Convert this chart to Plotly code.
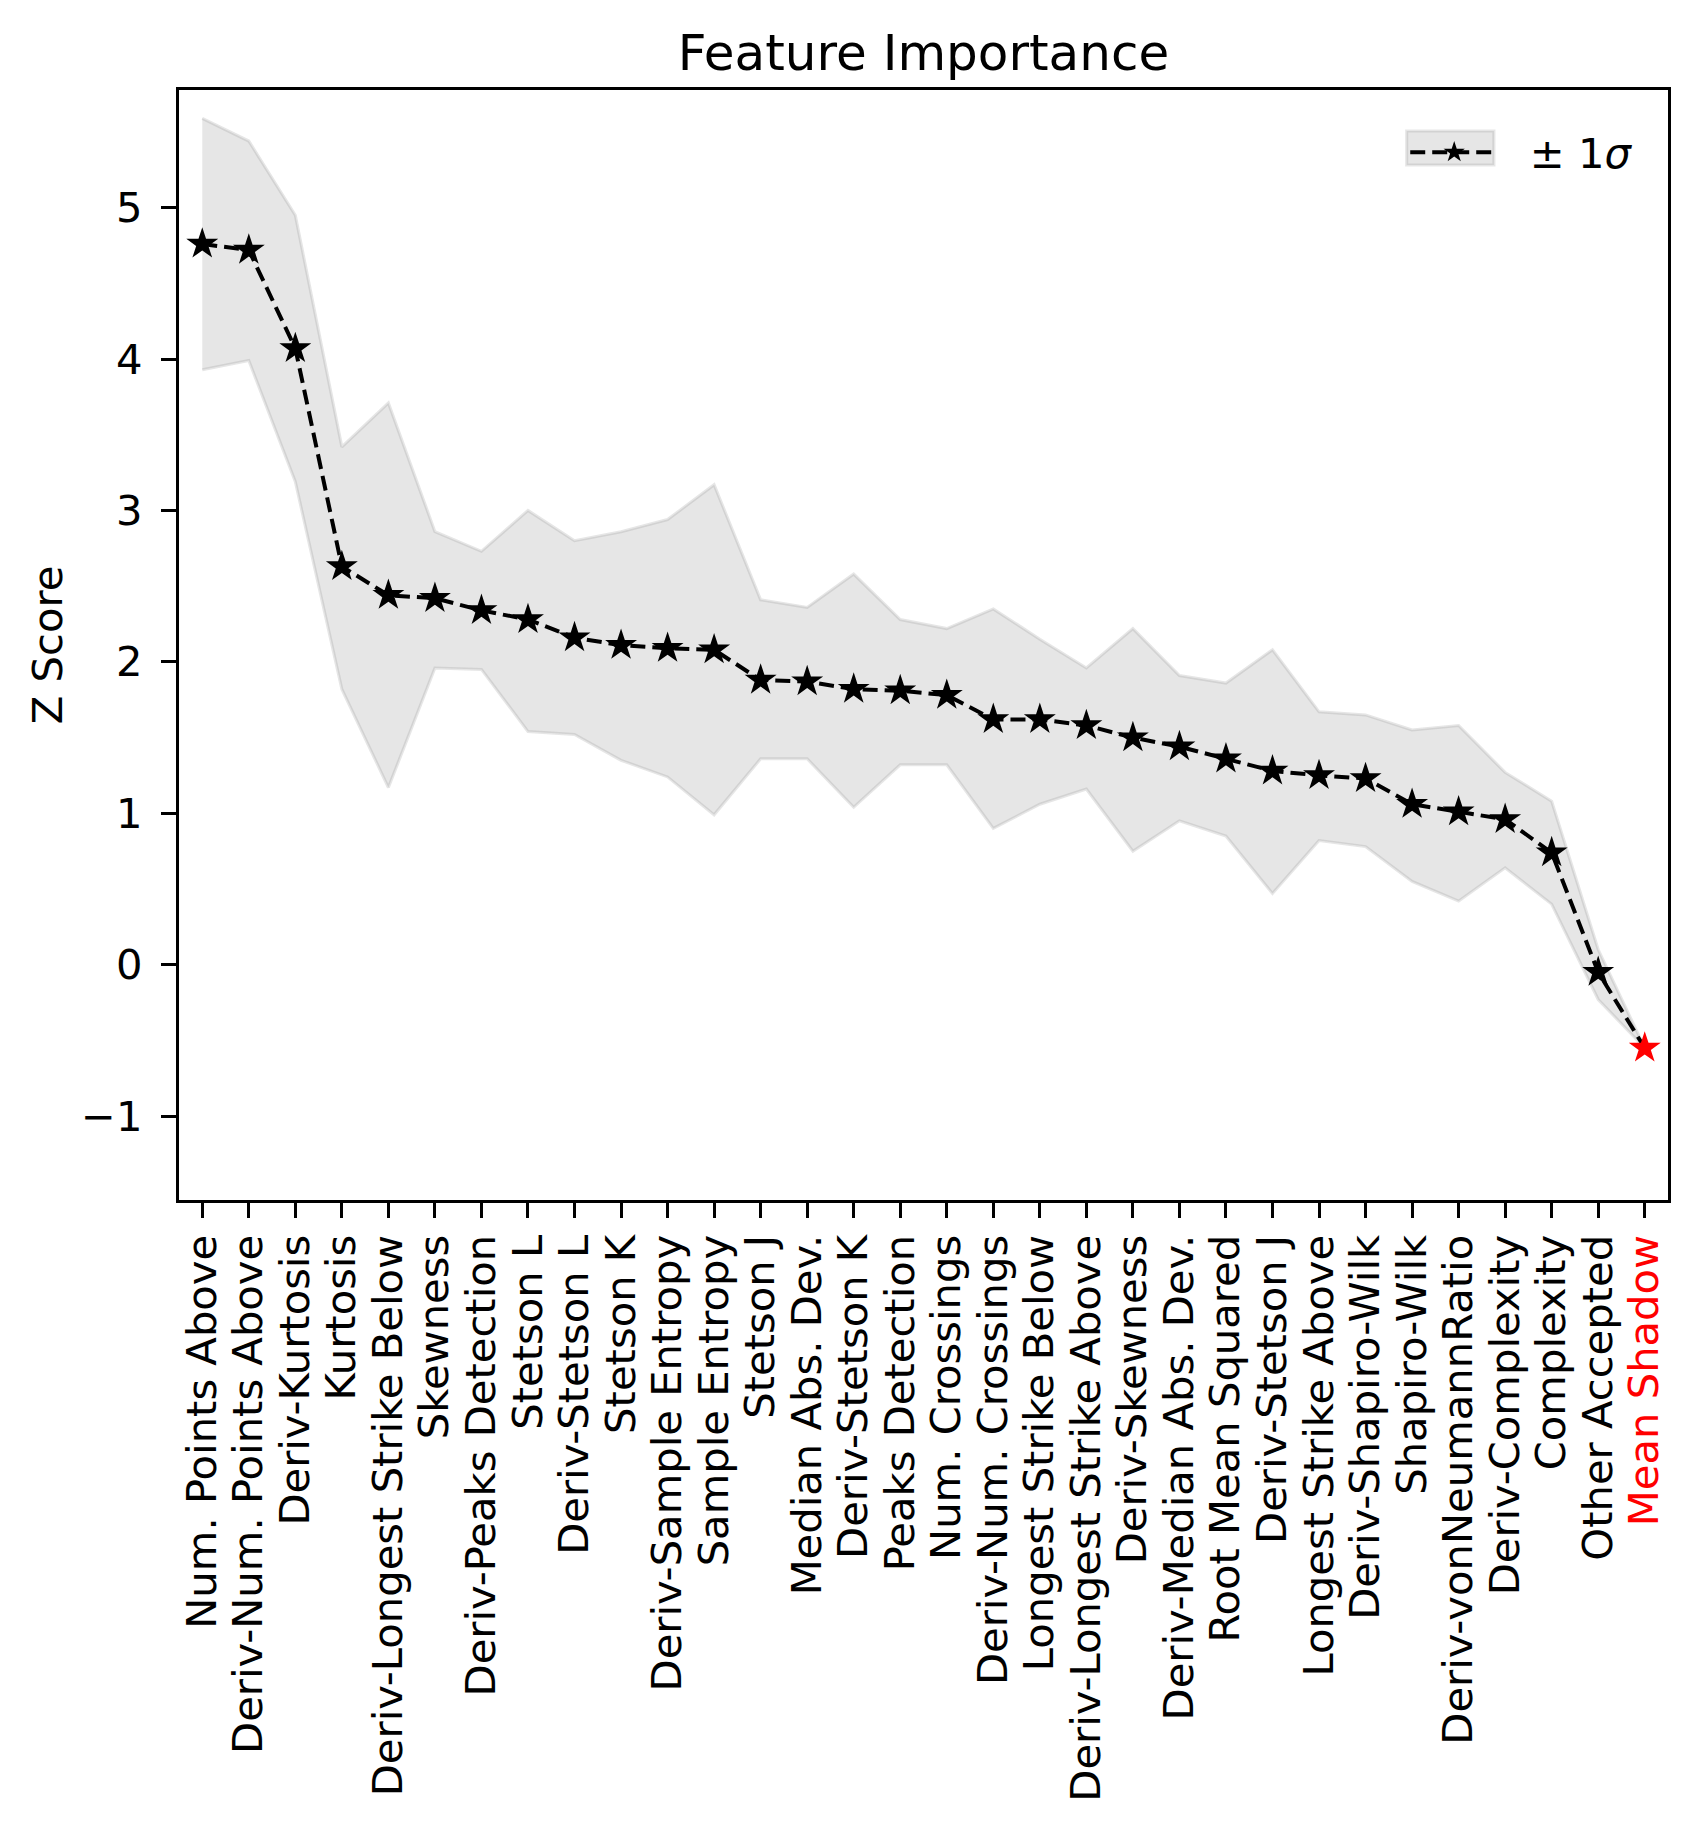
import plotly.graph_objects as go

features = [
    "Num. Points Above", "Deriv-Num. Points Above", "Deriv-Kurtosis", "Kurtosis",
    "Deriv-Longest Strike Below", "Skewness", "Deriv-Peaks Detection", "Stetson L",
    "Deriv-Stetson L", "Stetson K", "Deriv-Sample Entropy", "Sample Entropy",
    "Stetson J", "Median Abs. Dev.", "Deriv-Stetson K", "Peaks Detection",
    "Num. Crossings", "Deriv-Num. Crossings", "Longest Strike Below",
    "Deriv-Longest Strike Above", "Deriv-Skewness", "Deriv-Median Abs. Dev.",
    "Root Mean Squared", "Deriv-Stetson J", "Longest Strike Above",
    "Deriv-Shapiro-Wilk", "Shapiro-Wilk", "Deriv-vonNeumannRatio",
    "Deriv-Complexity", "Complexity", "Other Accepted", "Mean Shadow",
]
mean_z = [4.76, 4.72, 4.07, 2.63, 2.44, 2.42, 2.34, 2.28, 2.16, 2.11, 2.09, 2.08,
          1.88, 1.87, 1.82, 1.81, 1.78, 1.62, 1.62, 1.58, 1.50, 1.44, 1.36, 1.28,
          1.25, 1.23, 1.06, 1.01, 0.96, 0.74, -0.05, -0.55]
upper_z = [5.59, 5.44, 4.95, 3.42, 3.71, 2.86, 2.73, 3.00, 2.80, 2.86, 2.94, 3.17,
           2.41, 2.36, 2.58, 2.28, 2.22, 2.35, 2.15, 1.96, 2.22, 1.91, 1.86, 2.08,
           1.67, 1.65, 1.55, 1.58, 1.27, 1.08, 0.10, -0.55]
lower_z = [3.93, 3.99, 3.19, 1.82, 1.17, 1.96, 1.95, 1.54, 1.52, 1.35, 1.24, 0.99,
           1.36, 1.36, 1.04, 1.32, 1.32, 0.90, 1.06, 1.16, 0.75, 0.95, 0.85, 0.47,
           0.82, 0.78, 0.55, 0.42, 0.64, 0.40, -0.23, -0.55]
y_ticks = [-1, 0, 1, 2, 3, 4, 5]
legend_label = "\u00a0\u00a0± 1<i>σ</i>"

FONT = "DejaVu Sans"
n = len(features)
idx = list(range(n))

tick_text = features[:-1] + ['<span style="color:red">' + features[-1] + "</span>"]
marker_colors = ["black"] * (n - 1) + ["red"]

fig = go.Figure()

# shaded +-1 sigma band
fig.add_trace(go.Scatter(
    x=idx + idx[::-1], y=upper_z + lower_z[::-1],
    fill="toself", fillcolor="rgba(128,128,128,0.2)",
    line=dict(color="rgba(128,128,128,0.2)", width=3),
    mode="lines", showlegend=False, hoverinfo="skip",
))

# mean line (legend entry carries the +-1 sigma label)
fig.add_trace(go.Scatter(
    x=idx, y=mean_z, mode="lines+markers", name=legend_label,
    line=dict(color="black", width=4, dash="15px,7px"),
    marker=dict(symbol="star", size=24, color=marker_colors,
                line=dict(width=0)),
    showlegend=True,
))

axis_common = dict(
    showline=True, linecolor="black", linewidth=3.3, mirror=True,
    ticks="outside", ticklen=15, tickwidth=3.3, tickcolor="black",
    showgrid=False, zeroline=False,
    tickfont=dict(family=FONT, size=41.7, color="black"),
)

# light patch behind the legend handle (matplotlib-style fill_between handle)
fig.add_shape(type="rect", xref="paper", yref="paper",
              x0=0.8245, x1=0.8831, y0=0.9324, y1=0.9631,
              fillcolor="rgba(128,128,128,0.2)",
              line=dict(color="rgba(128,128,128,0.2)", width=3),
              layer="above")

fig.update_layout(
    width=1697, height=1826,
    margin=dict(l=179, r=29, t=90, b=626),
    paper_bgcolor="white", plot_bgcolor="white",
    font=dict(family=FONT, color="black"),
    title=dict(text="Feature Importance", x=0.5, xref="paper", xanchor="center",
               y=1 - 52 / 1826, yref="container", yanchor="middle",
               font=dict(family=FONT, size=50, color="black")),
    xaxis=dict(range=[-0.5, n - 0.5], tickvals=idx, ticktext=tick_text,
               tickangle=-90, ticklabelstandoff=0, **axis_common),
    yaxis=dict(range=[-1.554, 5.777], tickvals=y_ticks,
               ticklabelstandoff=10,
               title=dict(text="Z Score", standoff=6,
                          font=dict(family=FONT, size=41.7, color="black")),
               **axis_common),
    legend=dict(x=0.980, y=0.9743, xanchor="right", yanchor="top",
                bgcolor="rgba(0,0,0,0)",
                font=dict(family=FONT, size=41.7, color="black"),
                itemwidth=88),
)

fig.write_html("out.html")
